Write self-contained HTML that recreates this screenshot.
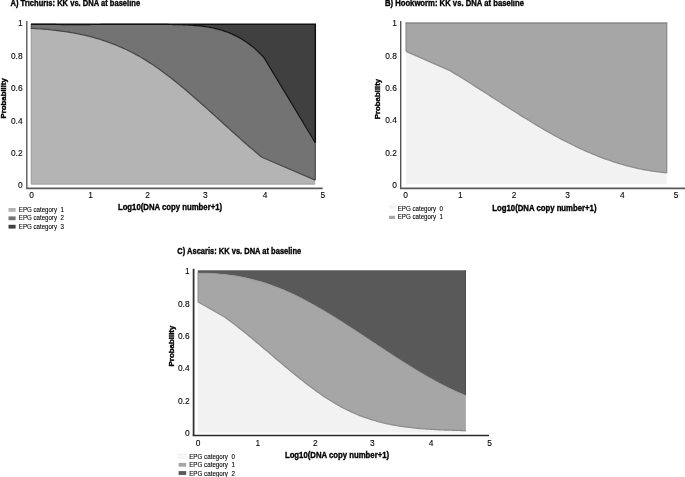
<!DOCTYPE html>
<html><head><meta charset="utf-8"><style>
html,body{margin:0;padding:0;background:#fff;}
body{width:685px;height:477px;overflow:hidden;}
svg{display:block;font-family:"Liberation Sans", sans-serif;filter:grayscale(1);}
</style></head><body>
<svg width="685" height="477" viewBox="0 0 685 477">
<rect width="685" height="477" fill="#fff"/>
<path d="M31.00,24.25 L33.01,24.25 L35.02,24.25 L37.03,24.25 L39.03,24.25 L41.04,24.25 L43.05,24.29 L45.06,24.33 L47.07,24.36 L49.08,24.40 L51.09,24.42 L53.09,24.45 L55.10,24.47 L57.11,24.49 L59.12,24.51 L61.13,24.53 L63.14,24.54 L65.15,24.55 L67.16,24.56 L69.16,24.56 L71.17,24.57 L73.18,24.57 L75.19,24.57 L77.20,24.57 L79.21,24.57 L81.22,24.56 L83.22,24.56 L85.23,24.55 L87.24,24.54 L89.25,24.53 L91.26,24.52 L93.27,24.51 L95.28,24.50 L97.28,24.49 L99.29,24.48 L101.30,24.46 L103.31,24.45 L105.32,24.44 L107.33,24.42 L109.34,24.41 L111.34,24.39 L113.35,24.38 L115.36,24.37 L117.37,24.35 L119.38,24.34 L121.39,24.33 L123.40,24.32 L125.41,24.31 L127.41,24.30 L129.42,24.29 L131.43,24.28 L133.44,24.28 L135.45,24.27 L137.46,24.27 L139.47,24.27 L141.47,24.27 L143.48,24.27 L145.49,24.27 L147.50,24.28 L149.51,24.28 L151.52,24.29 L153.53,24.30 L155.53,24.32 L157.54,24.33 L159.55,24.35 L161.56,24.37 L163.57,24.40 L165.58,24.42 L167.59,24.45 L169.59,24.49 L171.60,24.52 L173.61,24.56 L175.62,24.60 L177.63,24.65 L179.64,24.70 L181.65,24.76 L183.66,24.83 L185.66,24.91 L187.67,25.01 L189.68,25.11 L191.69,25.24 L193.70,25.38 L195.71,25.54 L197.72,25.72 L199.72,25.93 L201.73,26.16 L203.74,26.42 L205.75,26.71 L207.76,27.02 L209.77,27.37 L211.78,27.76 L213.78,28.18 L215.79,28.63 L217.80,29.13 L219.81,29.67 L221.82,30.25 L223.83,30.89 L225.84,31.57 L227.84,32.31 L229.85,33.10 L231.86,33.95 L233.87,34.86 L235.88,35.84 L237.89,36.88 L239.90,37.99 L241.91,39.17 L243.91,40.43 L245.92,41.76 L247.93,43.17 L249.94,44.67 L251.95,46.24 L253.96,47.91 L255.97,49.66 L257.97,51.51 L259.98,53.45 L261.99,55.49 L264.00,57.63 L315.30,142.70 L315.3,24.25 L31.0,24.25 Z" fill="#404040"/>
<path d="M31.00,24.25 L33.01,24.25 L35.02,24.25 L37.03,24.25 L39.03,24.25 L41.04,24.25 L43.05,24.29 L45.06,24.33 L47.07,24.36 L49.08,24.40 L51.09,24.42 L53.09,24.45 L55.10,24.47 L57.11,24.49 L59.12,24.51 L61.13,24.53 L63.14,24.54 L65.15,24.55 L67.16,24.56 L69.16,24.56 L71.17,24.57 L73.18,24.57 L75.19,24.57 L77.20,24.57 L79.21,24.57 L81.22,24.56 L83.22,24.56 L85.23,24.55 L87.24,24.54 L89.25,24.53 L91.26,24.52 L93.27,24.51 L95.28,24.50 L97.28,24.49 L99.29,24.48 L101.30,24.46 L103.31,24.45 L105.32,24.44 L107.33,24.42 L109.34,24.41 L111.34,24.39 L113.35,24.38 L115.36,24.37 L117.37,24.35 L119.38,24.34 L121.39,24.33 L123.40,24.32 L125.41,24.31 L127.41,24.30 L129.42,24.29 L131.43,24.28 L133.44,24.28 L135.45,24.27 L137.46,24.27 L139.47,24.27 L141.47,24.27 L143.48,24.27 L145.49,24.27 L147.50,24.28 L149.51,24.28 L151.52,24.29 L153.53,24.30 L155.53,24.32 L157.54,24.33 L159.55,24.35 L161.56,24.37 L163.57,24.40 L165.58,24.42 L167.59,24.45 L169.59,24.49 L171.60,24.52 L173.61,24.56 L175.62,24.60 L177.63,24.65 L179.64,24.70 L181.65,24.76 L183.66,24.83 L185.66,24.91 L187.67,25.01 L189.68,25.11 L191.69,25.24 L193.70,25.38 L195.71,25.54 L197.72,25.72 L199.72,25.93 L201.73,26.16 L203.74,26.42 L205.75,26.71 L207.76,27.02 L209.77,27.37 L211.78,27.76 L213.78,28.18 L215.79,28.63 L217.80,29.13 L219.81,29.67 L221.82,30.25 L223.83,30.89 L225.84,31.57 L227.84,32.31 L229.85,33.10 L231.86,33.95 L233.87,34.86 L235.88,35.84 L237.89,36.88 L239.90,37.99 L241.91,39.17 L243.91,40.43 L245.92,41.76 L247.93,43.17 L249.94,44.67 L251.95,46.24 L253.96,47.91 L255.97,49.66 L257.97,51.51 L259.98,53.45 L261.99,55.49 L264.00,57.63 L315.30,142.70 L315.30,180.10 L262.00,157.28 L259.99,155.63 L257.99,153.97 L255.98,152.28 L253.98,150.59 L251.97,148.88 L249.96,147.15 L247.96,145.41 L245.95,143.66 L243.95,141.91 L241.94,140.14 L239.93,138.36 L237.93,136.57 L235.92,134.78 L233.91,132.98 L231.91,131.17 L229.90,129.36 L227.90,127.54 L225.89,125.73 L223.88,123.91 L221.88,122.09 L219.87,120.26 L217.87,118.44 L215.86,116.62 L213.85,114.80 L211.85,112.98 L209.84,111.17 L207.84,109.36 L205.83,107.56 L203.82,105.76 L201.82,103.98 L199.81,102.19 L197.81,100.42 L195.80,98.66 L193.79,96.90 L191.79,95.16 L189.78,93.43 L187.77,91.71 L185.77,90.01 L183.76,88.32 L181.76,86.65 L179.75,84.99 L177.74,83.35 L175.74,81.73 L173.73,80.12 L171.73,78.54 L169.72,76.98 L167.71,75.44 L165.71,73.92 L163.70,72.42 L161.70,70.95 L159.69,69.50 L157.68,68.07 L155.68,66.68 L153.67,65.31 L151.67,63.97 L149.66,62.65 L147.65,61.37 L145.65,60.12 L143.64,58.90 L141.63,57.71 L139.63,56.55 L137.62,55.42 L135.62,54.33 L133.61,53.26 L131.60,52.22 L129.60,51.21 L127.59,50.23 L125.59,49.27 L123.58,48.35 L121.57,47.45 L119.57,46.58 L117.56,45.73 L115.56,44.91 L113.55,44.12 L111.54,43.35 L109.54,42.61 L107.53,41.89 L105.53,41.19 L103.52,40.52 L101.51,39.87 L99.51,39.24 L97.50,38.63 L95.49,38.05 L93.49,37.49 L91.48,36.95 L89.48,36.42 L87.47,35.92 L85.46,35.44 L83.46,34.98 L81.45,34.54 L79.45,34.11 L77.44,33.70 L75.43,33.31 L73.43,32.94 L71.42,32.59 L69.42,32.25 L67.41,31.92 L65.40,31.61 L63.40,31.32 L61.39,31.04 L59.39,30.77 L57.38,30.52 L55.37,30.29 L53.37,30.06 L51.36,29.85 L49.35,29.65 L47.35,29.46 L45.34,29.28 L43.34,29.11 L41.33,28.95 L39.32,28.81 L37.32,28.67 L35.31,28.54 L33.31,28.42 L31.30,28.31 L31.00,27.85 Z" fill="#737373"/>
<path d="M31.00,27.85 L31.30,28.31 L33.31,28.42 L35.31,28.54 L37.32,28.67 L39.32,28.81 L41.33,28.95 L43.34,29.11 L45.34,29.28 L47.35,29.46 L49.35,29.65 L51.36,29.85 L53.37,30.06 L55.37,30.29 L57.38,30.52 L59.39,30.77 L61.39,31.04 L63.40,31.32 L65.40,31.61 L67.41,31.92 L69.42,32.25 L71.42,32.59 L73.43,32.94 L75.43,33.31 L77.44,33.70 L79.45,34.11 L81.45,34.54 L83.46,34.98 L85.46,35.44 L87.47,35.92 L89.48,36.42 L91.48,36.95 L93.49,37.49 L95.49,38.05 L97.50,38.63 L99.51,39.24 L101.51,39.87 L103.52,40.52 L105.53,41.19 L107.53,41.89 L109.54,42.61 L111.54,43.35 L113.55,44.12 L115.56,44.91 L117.56,45.73 L119.57,46.58 L121.57,47.45 L123.58,48.35 L125.59,49.27 L127.59,50.23 L129.60,51.21 L131.60,52.22 L133.61,53.26 L135.62,54.33 L137.62,55.42 L139.63,56.55 L141.63,57.71 L143.64,58.90 L145.65,60.12 L147.65,61.37 L149.66,62.65 L151.67,63.97 L153.67,65.31 L155.68,66.68 L157.68,68.07 L159.69,69.50 L161.70,70.95 L163.70,72.42 L165.71,73.92 L167.71,75.44 L169.72,76.98 L171.73,78.54 L173.73,80.12 L175.74,81.73 L177.74,83.35 L179.75,84.99 L181.76,86.65 L183.76,88.32 L185.77,90.01 L187.77,91.71 L189.78,93.43 L191.79,95.16 L193.79,96.90 L195.80,98.66 L197.81,100.42 L199.81,102.19 L201.82,103.98 L203.82,105.76 L205.83,107.56 L207.84,109.36 L209.84,111.17 L211.85,112.98 L213.85,114.80 L215.86,116.62 L217.87,118.44 L219.87,120.26 L221.88,122.09 L223.88,123.91 L225.89,125.73 L227.90,127.54 L229.90,129.36 L231.91,131.17 L233.91,132.98 L235.92,134.78 L237.93,136.57 L239.93,138.36 L241.94,140.14 L243.95,141.91 L245.95,143.66 L247.96,145.41 L249.96,147.15 L251.97,148.88 L253.98,150.59 L255.98,152.28 L257.99,153.97 L259.99,155.63 L262.00,157.28 L315.30,180.10 L315.3,184.6 L31.0,184.6 Z" fill="#b4b4b4"/>
<path d="M31.3,184.0 L314.8,184.0" fill="none" stroke="#a2a2a2" stroke-width="1.2"/>
<path d="M31.3,27.85 L31.3,184.0" fill="none" stroke="#a2a2a2" stroke-width="1.2"/>
<path d="M31.3,24.25 L31.3,27.85" fill="none" stroke="#555" stroke-width="1.2"/>
<path d="M31.00,27.85 L31.30,28.31 L33.31,28.42 L35.31,28.54 L37.32,28.67 L39.32,28.81 L41.33,28.95 L43.34,29.11 L45.34,29.28 L47.35,29.46 L49.35,29.65 L51.36,29.85 L53.37,30.06 L55.37,30.29 L57.38,30.52 L59.39,30.77 L61.39,31.04 L63.40,31.32 L65.40,31.61 L67.41,31.92 L69.42,32.25 L71.42,32.59 L73.43,32.94 L75.43,33.31 L77.44,33.70 L79.45,34.11 L81.45,34.54 L83.46,34.98 L85.46,35.44 L87.47,35.92 L89.48,36.42 L91.48,36.95 L93.49,37.49 L95.49,38.05 L97.50,38.63 L99.51,39.24 L101.51,39.87 L103.52,40.52 L105.53,41.19 L107.53,41.89 L109.54,42.61 L111.54,43.35 L113.55,44.12 L115.56,44.91 L117.56,45.73 L119.57,46.58 L121.57,47.45 L123.58,48.35 L125.59,49.27 L127.59,50.23 L129.60,51.21 L131.60,52.22 L133.61,53.26 L135.62,54.33 L137.62,55.42 L139.63,56.55 L141.63,57.71 L143.64,58.90 L145.65,60.12 L147.65,61.37 L149.66,62.65 L151.67,63.97 L153.67,65.31 L155.68,66.68 L157.68,68.07 L159.69,69.50 L161.70,70.95 L163.70,72.42 L165.71,73.92 L167.71,75.44 L169.72,76.98 L171.73,78.54 L173.73,80.12 L175.74,81.73 L177.74,83.35 L179.75,84.99 L181.76,86.65 L183.76,88.32 L185.77,90.01 L187.77,91.71 L189.78,93.43 L191.79,95.16 L193.79,96.90 L195.80,98.66 L197.81,100.42 L199.81,102.19 L201.82,103.98 L203.82,105.76 L205.83,107.56 L207.84,109.36 L209.84,111.17 L211.85,112.98 L213.85,114.80 L215.86,116.62 L217.87,118.44 L219.87,120.26 L221.88,122.09 L223.88,123.91 L225.89,125.73 L227.90,127.54 L229.90,129.36 L231.91,131.17 L233.91,132.98 L235.92,134.78 L237.93,136.57 L239.93,138.36 L241.94,140.14 L243.95,141.91 L245.95,143.66 L247.96,145.41 L249.96,147.15 L251.97,148.88 L253.98,150.59 L255.98,152.28 L257.99,153.97 L259.99,155.63 L262.00,157.28 L315.30,180.10" fill="none" stroke="#484848" stroke-width="1.3"/>
<path d="M315.3,180.1 L315.3,142.7" fill="none" stroke="#4a4a4a" stroke-width="1.2"/>
<path d="M31.00,24.25 L33.01,24.25 L35.02,24.25 L37.03,24.25 L39.03,24.25 L41.04,24.25 L43.05,24.29 L45.06,24.33 L47.07,24.36 L49.08,24.40 L51.09,24.42 L53.09,24.45 L55.10,24.47 L57.11,24.49 L59.12,24.51 L61.13,24.53 L63.14,24.54 L65.15,24.55 L67.16,24.56 L69.16,24.56 L71.17,24.57 L73.18,24.57 L75.19,24.57 L77.20,24.57 L79.21,24.57 L81.22,24.56 L83.22,24.56 L85.23,24.55 L87.24,24.54 L89.25,24.53 L91.26,24.52 L93.27,24.51 L95.28,24.50 L97.28,24.49 L99.29,24.48 L101.30,24.46 L103.31,24.45 L105.32,24.44 L107.33,24.42 L109.34,24.41 L111.34,24.39 L113.35,24.38 L115.36,24.37 L117.37,24.35 L119.38,24.34 L121.39,24.33 L123.40,24.32 L125.41,24.31 L127.41,24.30 L129.42,24.29 L131.43,24.28 L133.44,24.28 L135.45,24.27 L137.46,24.27 L139.47,24.27 L141.47,24.27 L143.48,24.27 L145.49,24.27 L147.50,24.28 L149.51,24.28 L151.52,24.29 L153.53,24.30 L155.53,24.32 L157.54,24.33 L159.55,24.35 L161.56,24.37 L163.57,24.40 L165.58,24.42 L167.59,24.45 L169.59,24.49 L171.60,24.52 L173.61,24.56 L175.62,24.60 L177.63,24.65 L179.64,24.70 L181.65,24.76 L183.66,24.83 L185.66,24.91 L187.67,25.01 L189.68,25.11 L191.69,25.24 L193.70,25.38 L195.71,25.54 L197.72,25.72 L199.72,25.93 L201.73,26.16 L203.74,26.42 L205.75,26.71 L207.76,27.02 L209.77,27.37 L211.78,27.76 L213.78,28.18 L215.79,28.63 L217.80,29.13 L219.81,29.67 L221.82,30.25 L223.83,30.89 L225.84,31.57 L227.84,32.31 L229.85,33.10 L231.86,33.95 L233.87,34.86 L235.88,35.84 L237.89,36.88 L239.90,37.99 L241.91,39.17 L243.91,40.43 L245.92,41.76 L247.93,43.17 L249.94,44.67 L251.95,46.24 L253.96,47.91 L255.97,49.66 L257.97,51.51 L259.98,53.45 L261.99,55.49 L264.00,57.63 L315.30,142.70" fill="none" stroke="#111" stroke-width="1.2"/>
<path d="M31.0,24.25 L315.3,24.25 L315.3,142.7" fill="none" stroke="#111" stroke-width="1.5"/>
<path d="M26.8,21 L26.8,188.2" fill="none" stroke="#5a5a5a" stroke-width="1.4"/>
<path d="M26.1,188.3 L322.7,188.3" fill="none" stroke="#5c5c5c" stroke-width="1.8"/>
<text x="10.5" y="6.3" font-size="8.6" font-weight="bold" stroke="#000" stroke-width="0.35" textLength="129.6" lengthAdjust="spacingAndGlyphs" fill="#000">A) Trichuris: KK vs. DNA at baseline</text>
<text x="22.6" y="25.85" font-size="8.4" stroke="#000" stroke-width="0.1" text-anchor="end" fill="#000">1</text>
<text x="22.6" y="58.7" font-size="8.4" stroke="#000" stroke-width="0.1" text-anchor="end" fill="#000">0.8</text>
<text x="22.6" y="91.2" font-size="8.4" stroke="#000" stroke-width="0.1" text-anchor="end" fill="#000">0.6</text>
<text x="22.6" y="123.7" font-size="8.4" stroke="#000" stroke-width="0.1" text-anchor="end" fill="#000">0.4</text>
<text x="22.6" y="156.4" font-size="8.4" stroke="#000" stroke-width="0.1" text-anchor="end" fill="#000">0.2</text>
<text x="22.6" y="188.45" font-size="8.4" stroke="#000" stroke-width="0.1" text-anchor="end" fill="#000">0</text>
<text x="31.5" y="198" font-size="8.4" stroke="#000" stroke-width="0.1" text-anchor="middle" fill="#000">0</text>
<text x="90.5" y="198" font-size="8.4" stroke="#000" stroke-width="0.1" text-anchor="middle" fill="#000">1</text>
<text x="147.7" y="198" font-size="8.4" stroke="#000" stroke-width="0.1" text-anchor="middle" fill="#000">2</text>
<text x="205.4" y="198" font-size="8.4" stroke="#000" stroke-width="0.1" text-anchor="middle" fill="#000">3</text>
<text x="265" y="198" font-size="8.4" stroke="#000" stroke-width="0.1" text-anchor="middle" fill="#000">4</text>
<text x="322.8" y="198" font-size="8.4" stroke="#000" stroke-width="0.1" text-anchor="middle" fill="#000">5</text>
<text x="117.9" y="210.3" font-size="8.6" font-weight="bold" stroke="#000" stroke-width="0.35" textLength="104.2" lengthAdjust="spacingAndGlyphs" fill="#000">Log10(DNA copy number+1)</text>
<text x="6.3" y="118.4" font-size="7.4" font-weight="bold" stroke="#000" stroke-width="0.35" textLength="40.2" lengthAdjust="spacingAndGlyphs" transform="rotate(-90 6.3 118.4)" fill="#000">Probability</text>
<rect x="8.5" y="208.0" width="7.1" height="3.8" fill="#b4b4b4"/>
<text x="18.8" y="212.0" font-size="6.8" stroke="#000" stroke-width="0.1" textLength="45" lengthAdjust="spacingAndGlyphs" fill="#000" xml:space="preserve">EPG category  1</text>
<rect x="8.5" y="216.4" width="7.1" height="3.8" fill="#737373"/>
<text x="18.8" y="220.4" font-size="6.8" stroke="#000" stroke-width="0.1" textLength="45" lengthAdjust="spacingAndGlyphs" fill="#000" xml:space="preserve">EPG category  2</text>
<rect x="8.5" y="224.8" width="7.1" height="3.8" fill="#404040"/>
<text x="18.8" y="228.8" font-size="6.8" stroke="#000" stroke-width="0.1" textLength="45" lengthAdjust="spacingAndGlyphs" fill="#000" xml:space="preserve">EPG category  3</text>
<path d="M406.10,51.30 L450.00,70.70 L452.00,71.90 L454.01,73.11 L456.01,74.33 L458.02,75.56 L460.02,76.79 L462.03,78.03 L464.03,79.27 L466.04,80.53 L468.04,81.78 L470.05,83.05 L472.05,84.31 L474.06,85.58 L476.06,86.86 L478.06,88.14 L480.07,89.42 L482.07,90.70 L484.08,91.99 L486.08,93.28 L488.09,94.57 L490.09,95.86 L492.10,97.15 L494.10,98.44 L496.11,99.73 L498.11,101.02 L500.12,102.32 L502.12,103.60 L504.12,104.89 L506.13,106.18 L508.13,107.46 L510.14,108.74 L512.14,110.02 L514.15,111.29 L516.15,112.56 L518.16,113.82 L520.16,115.08 L522.17,116.33 L524.17,117.58 L526.18,118.82 L528.18,120.06 L530.19,121.29 L532.19,122.51 L534.19,123.72 L536.20,124.93 L538.20,126.12 L540.21,127.31 L542.21,128.49 L544.22,129.66 L546.22,130.82 L548.23,131.96 L550.23,133.10 L552.24,134.23 L554.24,135.34 L556.25,136.44 L558.25,137.53 L560.25,138.61 L562.26,139.67 L564.26,140.72 L566.27,141.75 L568.27,142.77 L570.28,143.78 L572.28,144.77 L574.29,145.75 L576.29,146.71 L578.30,147.66 L580.30,148.59 L582.31,149.51 L584.31,150.41 L586.31,151.29 L588.32,152.16 L590.32,153.02 L592.33,153.86 L594.33,154.68 L596.34,155.49 L598.34,156.28 L600.35,157.05 L602.35,157.81 L604.36,158.55 L606.36,159.28 L608.37,159.99 L610.37,160.68 L612.38,161.36 L614.38,162.01 L616.38,162.65 L618.39,163.28 L620.39,163.88 L622.40,164.47 L624.40,165.04 L626.41,165.60 L628.41,166.13 L630.42,166.65 L632.42,167.15 L634.43,167.63 L636.43,168.10 L638.44,168.54 L640.44,168.97 L642.44,169.37 L644.45,169.76 L646.45,170.13 L648.46,170.48 L650.46,170.82 L652.47,171.13 L654.47,171.42 L656.48,171.70 L658.48,171.95 L660.49,172.19 L662.49,172.40 L664.50,172.60 L666.50,172.77 L666.70,173.00 L666.7,23.125 L406.1,23.125 Z" fill="#a6a6a6"/>
<path d="M406.10,51.30 L450.00,70.70 L452.00,71.90 L454.01,73.11 L456.01,74.33 L458.02,75.56 L460.02,76.79 L462.03,78.03 L464.03,79.27 L466.04,80.53 L468.04,81.78 L470.05,83.05 L472.05,84.31 L474.06,85.58 L476.06,86.86 L478.06,88.14 L480.07,89.42 L482.07,90.70 L484.08,91.99 L486.08,93.28 L488.09,94.57 L490.09,95.86 L492.10,97.15 L494.10,98.44 L496.11,99.73 L498.11,101.02 L500.12,102.32 L502.12,103.60 L504.12,104.89 L506.13,106.18 L508.13,107.46 L510.14,108.74 L512.14,110.02 L514.15,111.29 L516.15,112.56 L518.16,113.82 L520.16,115.08 L522.17,116.33 L524.17,117.58 L526.18,118.82 L528.18,120.06 L530.19,121.29 L532.19,122.51 L534.19,123.72 L536.20,124.93 L538.20,126.12 L540.21,127.31 L542.21,128.49 L544.22,129.66 L546.22,130.82 L548.23,131.96 L550.23,133.10 L552.24,134.23 L554.24,135.34 L556.25,136.44 L558.25,137.53 L560.25,138.61 L562.26,139.67 L564.26,140.72 L566.27,141.75 L568.27,142.77 L570.28,143.78 L572.28,144.77 L574.29,145.75 L576.29,146.71 L578.30,147.66 L580.30,148.59 L582.31,149.51 L584.31,150.41 L586.31,151.29 L588.32,152.16 L590.32,153.02 L592.33,153.86 L594.33,154.68 L596.34,155.49 L598.34,156.28 L600.35,157.05 L602.35,157.81 L604.36,158.55 L606.36,159.28 L608.37,159.99 L610.37,160.68 L612.38,161.36 L614.38,162.01 L616.38,162.65 L618.39,163.28 L620.39,163.88 L622.40,164.47 L624.40,165.04 L626.41,165.60 L628.41,166.13 L630.42,166.65 L632.42,167.15 L634.43,167.63 L636.43,168.10 L638.44,168.54 L640.44,168.97 L642.44,169.37 L644.45,169.76 L646.45,170.13 L648.46,170.48 L650.46,170.82 L652.47,171.13 L654.47,171.42 L656.48,171.70 L658.48,171.95 L660.49,172.19 L662.49,172.40 L664.50,172.60 L666.50,172.77 L666.70,173.00 L666.7,184.2 L406.1,184.2 Z" fill="#f2f2f2"/>
<path d="M406.10,51.30 L450.00,70.70 L452.00,71.90 L454.01,73.11 L456.01,74.33 L458.02,75.56 L460.02,76.79 L462.03,78.03 L464.03,79.27 L466.04,80.53 L468.04,81.78 L470.05,83.05 L472.05,84.31 L474.06,85.58 L476.06,86.86 L478.06,88.14 L480.07,89.42 L482.07,90.70 L484.08,91.99 L486.08,93.28 L488.09,94.57 L490.09,95.86 L492.10,97.15 L494.10,98.44 L496.11,99.73 L498.11,101.02 L500.12,102.32 L502.12,103.60 L504.12,104.89 L506.13,106.18 L508.13,107.46 L510.14,108.74 L512.14,110.02 L514.15,111.29 L516.15,112.56 L518.16,113.82 L520.16,115.08 L522.17,116.33 L524.17,117.58 L526.18,118.82 L528.18,120.06 L530.19,121.29 L532.19,122.51 L534.19,123.72 L536.20,124.93 L538.20,126.12 L540.21,127.31 L542.21,128.49 L544.22,129.66 L546.22,130.82 L548.23,131.96 L550.23,133.10 L552.24,134.23 L554.24,135.34 L556.25,136.44 L558.25,137.53 L560.25,138.61 L562.26,139.67 L564.26,140.72 L566.27,141.75 L568.27,142.77 L570.28,143.78 L572.28,144.77 L574.29,145.75 L576.29,146.71 L578.30,147.66 L580.30,148.59 L582.31,149.51 L584.31,150.41 L586.31,151.29 L588.32,152.16 L590.32,153.02 L592.33,153.86 L594.33,154.68 L596.34,155.49 L598.34,156.28 L600.35,157.05 L602.35,157.81 L604.36,158.55 L606.36,159.28 L608.37,159.99 L610.37,160.68 L612.38,161.36 L614.38,162.01 L616.38,162.65 L618.39,163.28 L620.39,163.88 L622.40,164.47 L624.40,165.04 L626.41,165.60 L628.41,166.13 L630.42,166.65 L632.42,167.15 L634.43,167.63 L636.43,168.10 L638.44,168.54 L640.44,168.97 L642.44,169.37 L644.45,169.76 L646.45,170.13 L648.46,170.48 L650.46,170.82 L652.47,171.13 L654.47,171.42 L656.48,171.70 L658.48,171.95 L660.49,172.19 L662.49,172.40 L664.50,172.60 L666.50,172.77 L666.70,173.00" fill="none" stroke="#8c8c8c" stroke-width="1.3"/>
<path d="M406.1,51.3 L406.1,23.125 M666.7,23.125 L666.7,173.0" fill="none" stroke="#8c8c8c" stroke-width="1.3"/>
<path d="M405.45000000000005,23.125 L667.35,23.125" fill="none" stroke="#8c8c8c" stroke-width="1.75"/>
<path d="M400.7,21 L400.7,188.2" fill="none" stroke="#555" stroke-width="1.4"/>
<path d="M400,188.3 L685,188.3" fill="none" stroke="#5a5a5a" stroke-width="1.8"/>
<text x="384.9" y="6.2" font-size="8.6" font-weight="bold" stroke="#000" stroke-width="0.35" textLength="139.1" lengthAdjust="spacingAndGlyphs" fill="#000">B) Hookworm: KK vs. DNA at baseline</text>
<text x="396.8" y="26.0" font-size="8.4" stroke="#000" stroke-width="0.1" text-anchor="end" fill="#000">1</text>
<text x="396.8" y="58.7" font-size="8.4" stroke="#000" stroke-width="0.1" text-anchor="end" fill="#000">0.8</text>
<text x="396.8" y="91.2" font-size="8.4" stroke="#000" stroke-width="0.1" text-anchor="end" fill="#000">0.6</text>
<text x="396.8" y="123.3" font-size="8.4" stroke="#000" stroke-width="0.1" text-anchor="end" fill="#000">0.4</text>
<text x="396.8" y="156.1" font-size="8.4" stroke="#000" stroke-width="0.1" text-anchor="end" fill="#000">0.2</text>
<text x="396.8" y="188.4" font-size="8.4" stroke="#000" stroke-width="0.1" text-anchor="end" fill="#000">0</text>
<text x="405.7" y="198" font-size="8.4" stroke="#000" stroke-width="0.1" text-anchor="middle" fill="#000">0</text>
<text x="460.4" y="198" font-size="8.4" stroke="#000" stroke-width="0.1" text-anchor="middle" fill="#000">1</text>
<text x="514" y="198" font-size="8.4" stroke="#000" stroke-width="0.1" text-anchor="middle" fill="#000">2</text>
<text x="567.7" y="198" font-size="8.4" stroke="#000" stroke-width="0.1" text-anchor="middle" fill="#000">3</text>
<text x="622.4" y="198" font-size="8.4" stroke="#000" stroke-width="0.1" text-anchor="middle" fill="#000">4</text>
<text x="676" y="198" font-size="8.4" stroke="#000" stroke-width="0.1" text-anchor="middle" fill="#000">5</text>
<text x="492.3" y="210.6" font-size="8.6" font-weight="bold" stroke="#000" stroke-width="0.35" textLength="104.2" lengthAdjust="spacingAndGlyphs" fill="#000">Log10(DNA copy number+1)</text>
<text x="380.4" y="119.2" font-size="7.4" font-weight="bold" stroke="#000" stroke-width="0.35" textLength="40.4" lengthAdjust="spacingAndGlyphs" transform="rotate(-90 380.4 119.2)" fill="#000">Probability</text>
<rect x="389.2" y="205.3" width="6.5" height="3.3" fill="#f2f2f2"/>
<text x="397.7" y="210.7" font-size="6.8" stroke="#000" stroke-width="0.1" textLength="45.3" lengthAdjust="spacingAndGlyphs" fill="#000" xml:space="preserve">EPG category  0</text>
<rect x="389.0" y="215.8" width="6.0" height="3.2" fill="#a6a6a6"/>
<text x="397.7" y="218.8" font-size="6.8" stroke="#000" stroke-width="0.1" textLength="45.3" lengthAdjust="spacingAndGlyphs" fill="#000" xml:space="preserve">EPG category  1</text>
<path d="M197.80,273.05 L199.80,273.04 L201.80,273.04 L203.79,273.07 L205.79,273.11 L207.79,273.16 L209.79,273.24 L211.78,273.33 L213.78,273.44 L215.78,273.57 L217.78,273.71 L219.78,273.88 L221.77,274.06 L223.77,274.26 L225.77,274.48 L227.77,274.72 L229.76,274.98 L231.76,275.26 L233.76,275.55 L235.76,275.87 L237.76,276.21 L239.75,276.56 L241.75,276.94 L243.75,277.34 L245.75,277.76 L247.74,278.20 L249.74,278.66 L251.74,279.14 L253.74,279.64 L255.74,280.16 L257.73,280.71 L259.73,281.28 L261.73,281.87 L263.73,282.48 L265.72,283.11 L267.72,283.77 L269.72,284.45 L271.72,285.15 L273.71,285.88 L275.71,286.63 L277.71,287.40 L279.71,288.20 L281.71,289.02 L283.70,289.86 L285.70,290.72 L287.70,291.60 L289.70,292.51 L291.69,293.43 L293.69,294.37 L295.69,295.33 L297.69,296.31 L299.69,297.31 L301.68,298.33 L303.68,299.36 L305.68,300.41 L307.68,301.47 L309.67,302.55 L311.67,303.65 L313.67,304.76 L315.67,305.88 L317.67,307.02 L319.66,308.17 L321.66,309.34 L323.66,310.52 L325.66,311.70 L327.65,312.90 L329.65,314.11 L331.65,315.33 L333.65,316.57 L335.65,317.80 L337.64,319.05 L339.64,320.31 L341.64,321.58 L343.64,322.85 L345.63,324.13 L347.63,325.41 L349.63,326.70 L351.63,328.00 L353.63,329.30 L355.62,330.61 L357.62,331.92 L359.62,333.23 L361.62,334.55 L363.61,335.87 L365.61,337.19 L367.61,338.52 L369.61,339.84 L371.61,341.17 L373.60,342.49 L375.60,343.82 L377.60,345.14 L379.60,346.46 L381.59,347.79 L383.59,349.10 L385.59,350.42 L387.59,351.73 L389.59,353.04 L391.58,354.35 L393.58,355.65 L395.58,356.94 L397.58,358.23 L399.57,359.52 L401.57,360.79 L403.57,362.06 L405.57,363.32 L407.56,364.58 L409.56,365.82 L411.56,367.06 L413.56,368.29 L415.56,369.50 L417.55,370.71 L419.55,371.91 L421.55,373.09 L423.55,374.26 L425.54,375.42 L427.54,376.57 L429.54,377.70 L431.54,378.82 L433.54,379.93 L435.53,381.02 L437.53,382.09 L439.53,383.15 L441.53,384.20 L443.52,385.22 L445.52,386.23 L447.52,387.22 L449.52,388.20 L451.52,389.15 L453.51,390.09 L455.51,391.00 L457.51,391.90 L459.51,392.77 L461.50,393.62 L463.50,394.46 L465.50,395.27 L465.90,395.00 L465.9,270.25 L197.8,270.25 Z" fill="#595959"/>
<path d="M197.80,273.05 L199.80,273.04 L201.80,273.04 L203.79,273.07 L205.79,273.11 L207.79,273.16 L209.79,273.24 L211.78,273.33 L213.78,273.44 L215.78,273.57 L217.78,273.71 L219.78,273.88 L221.77,274.06 L223.77,274.26 L225.77,274.48 L227.77,274.72 L229.76,274.98 L231.76,275.26 L233.76,275.55 L235.76,275.87 L237.76,276.21 L239.75,276.56 L241.75,276.94 L243.75,277.34 L245.75,277.76 L247.74,278.20 L249.74,278.66 L251.74,279.14 L253.74,279.64 L255.74,280.16 L257.73,280.71 L259.73,281.28 L261.73,281.87 L263.73,282.48 L265.72,283.11 L267.72,283.77 L269.72,284.45 L271.72,285.15 L273.71,285.88 L275.71,286.63 L277.71,287.40 L279.71,288.20 L281.71,289.02 L283.70,289.86 L285.70,290.72 L287.70,291.60 L289.70,292.51 L291.69,293.43 L293.69,294.37 L295.69,295.33 L297.69,296.31 L299.69,297.31 L301.68,298.33 L303.68,299.36 L305.68,300.41 L307.68,301.47 L309.67,302.55 L311.67,303.65 L313.67,304.76 L315.67,305.88 L317.67,307.02 L319.66,308.17 L321.66,309.34 L323.66,310.52 L325.66,311.70 L327.65,312.90 L329.65,314.11 L331.65,315.33 L333.65,316.57 L335.65,317.80 L337.64,319.05 L339.64,320.31 L341.64,321.58 L343.64,322.85 L345.63,324.13 L347.63,325.41 L349.63,326.70 L351.63,328.00 L353.63,329.30 L355.62,330.61 L357.62,331.92 L359.62,333.23 L361.62,334.55 L363.61,335.87 L365.61,337.19 L367.61,338.52 L369.61,339.84 L371.61,341.17 L373.60,342.49 L375.60,343.82 L377.60,345.14 L379.60,346.46 L381.59,347.79 L383.59,349.10 L385.59,350.42 L387.59,351.73 L389.59,353.04 L391.58,354.35 L393.58,355.65 L395.58,356.94 L397.58,358.23 L399.57,359.52 L401.57,360.79 L403.57,362.06 L405.57,363.32 L407.56,364.58 L409.56,365.82 L411.56,367.06 L413.56,368.29 L415.56,369.50 L417.55,370.71 L419.55,371.91 L421.55,373.09 L423.55,374.26 L425.54,375.42 L427.54,376.57 L429.54,377.70 L431.54,378.82 L433.54,379.93 L435.53,381.02 L437.53,382.09 L439.53,383.15 L441.53,384.20 L443.52,385.22 L445.52,386.23 L447.52,387.22 L449.52,388.20 L451.52,389.15 L453.51,390.09 L455.51,391.00 L457.51,391.90 L459.51,392.77 L461.50,393.62 L463.50,394.46 L465.50,395.27 L465.90,395.00 L465.90,430.90 L465.40,430.60 L463.40,430.54 L461.39,430.48 L459.39,430.42 L457.39,430.36 L455.38,430.30 L453.38,430.24 L451.38,430.18 L449.37,430.12 L447.37,430.05 L445.37,429.98 L443.36,429.90 L441.36,429.83 L439.36,429.74 L437.35,429.65 L435.35,429.55 L433.35,429.45 L431.34,429.34 L429.34,429.22 L427.34,429.09 L425.33,428.95 L423.33,428.81 L421.33,428.65 L419.32,428.48 L417.32,428.30 L415.32,428.10 L413.31,427.90 L411.31,427.68 L409.31,427.44 L407.30,427.19 L405.30,426.93 L403.30,426.65 L401.29,426.35 L399.29,426.04 L397.29,425.71 L395.28,425.36 L393.28,424.99 L391.28,424.60 L389.27,424.20 L387.27,423.77 L385.27,423.32 L383.26,422.85 L381.26,422.35 L379.26,421.84 L377.25,421.30 L375.25,420.74 L373.25,420.15 L371.24,419.53 L369.24,418.89 L367.24,418.23 L365.23,417.53 L363.23,416.81 L361.23,416.07 L359.22,415.29 L357.22,414.48 L355.22,413.64 L353.21,412.78 L351.21,411.88 L349.21,410.95 L347.20,409.98 L345.20,408.99 L343.20,407.96 L341.19,406.90 L339.19,405.80 L337.19,404.67 L335.18,403.50 L333.18,402.30 L331.18,401.07 L329.17,399.81 L327.17,398.52 L325.17,397.20 L323.16,395.86 L321.16,394.48 L319.16,393.08 L317.15,391.66 L315.15,390.22 L313.15,388.75 L311.14,387.26 L309.14,385.75 L307.14,384.22 L305.13,382.67 L303.13,381.10 L301.13,379.52 L299.12,377.92 L297.12,376.31 L295.12,374.69 L293.11,373.05 L291.11,371.40 L289.11,369.74 L287.10,368.07 L285.10,366.40 L283.10,364.71 L281.09,363.02 L279.09,361.33 L277.09,359.63 L275.08,357.93 L273.08,356.22 L271.08,354.52 L269.07,352.81 L267.07,351.11 L265.07,349.40 L263.06,347.70 L261.06,346.01 L259.06,344.32 L257.05,342.63 L255.05,340.95 L253.05,339.28 L251.04,337.62 L249.04,335.97 L247.04,334.33 L245.03,332.70 L243.03,331.08 L241.03,329.48 L239.02,327.90 L237.02,326.33 L235.02,324.77 L233.01,323.24 L231.01,321.72 L229.01,320.23 L227.00,318.75 L225.00,317.30 L197.80,301.70 Z" fill="#a6a6a6"/>
<path d="M197.80,301.70 L225.00,317.30 L227.00,318.75 L229.01,320.23 L231.01,321.72 L233.01,323.24 L235.02,324.77 L237.02,326.33 L239.02,327.90 L241.03,329.48 L243.03,331.08 L245.03,332.70 L247.04,334.33 L249.04,335.97 L251.04,337.62 L253.05,339.28 L255.05,340.95 L257.05,342.63 L259.06,344.32 L261.06,346.01 L263.06,347.70 L265.07,349.40 L267.07,351.11 L269.07,352.81 L271.08,354.52 L273.08,356.22 L275.08,357.93 L277.09,359.63 L279.09,361.33 L281.09,363.02 L283.10,364.71 L285.10,366.40 L287.10,368.07 L289.11,369.74 L291.11,371.40 L293.11,373.05 L295.12,374.69 L297.12,376.31 L299.12,377.92 L301.13,379.52 L303.13,381.10 L305.13,382.67 L307.14,384.22 L309.14,385.75 L311.14,387.26 L313.15,388.75 L315.15,390.22 L317.15,391.66 L319.16,393.08 L321.16,394.48 L323.16,395.86 L325.17,397.20 L327.17,398.52 L329.17,399.81 L331.18,401.07 L333.18,402.30 L335.18,403.50 L337.19,404.67 L339.19,405.80 L341.19,406.90 L343.20,407.96 L345.20,408.99 L347.20,409.98 L349.21,410.95 L351.21,411.88 L353.21,412.78 L355.22,413.64 L357.22,414.48 L359.22,415.29 L361.23,416.07 L363.23,416.81 L365.23,417.53 L367.24,418.23 L369.24,418.89 L371.24,419.53 L373.25,420.15 L375.25,420.74 L377.25,421.30 L379.26,421.84 L381.26,422.35 L383.26,422.85 L385.27,423.32 L387.27,423.77 L389.27,424.20 L391.28,424.60 L393.28,424.99 L395.28,425.36 L397.29,425.71 L399.29,426.04 L401.29,426.35 L403.30,426.65 L405.30,426.93 L407.30,427.19 L409.31,427.44 L411.31,427.68 L413.31,427.90 L415.32,428.10 L417.32,428.30 L419.32,428.48 L421.33,428.65 L423.33,428.81 L425.33,428.95 L427.34,429.09 L429.34,429.22 L431.34,429.34 L433.35,429.45 L435.35,429.55 L437.35,429.65 L439.36,429.74 L441.36,429.83 L443.36,429.90 L445.37,429.98 L447.37,430.05 L449.37,430.12 L451.38,430.18 L453.38,430.24 L455.38,430.30 L457.39,430.36 L459.39,430.42 L461.39,430.48 L463.40,430.54 L465.40,430.60 L465.90,430.90 L465.9,432.4 L197.8,432.4 Z" fill="#f2f2f2"/>
<path d="M197.80,301.70 L225.00,317.30 L227.00,318.75 L229.01,320.23 L231.01,321.72 L233.01,323.24 L235.02,324.77 L237.02,326.33 L239.02,327.90 L241.03,329.48 L243.03,331.08 L245.03,332.70 L247.04,334.33 L249.04,335.97 L251.04,337.62 L253.05,339.28 L255.05,340.95 L257.05,342.63 L259.06,344.32 L261.06,346.01 L263.06,347.70 L265.07,349.40 L267.07,351.11 L269.07,352.81 L271.08,354.52 L273.08,356.22 L275.08,357.93 L277.09,359.63 L279.09,361.33 L281.09,363.02 L283.10,364.71 L285.10,366.40 L287.10,368.07 L289.11,369.74 L291.11,371.40 L293.11,373.05 L295.12,374.69 L297.12,376.31 L299.12,377.92 L301.13,379.52 L303.13,381.10 L305.13,382.67 L307.14,384.22 L309.14,385.75 L311.14,387.26 L313.15,388.75 L315.15,390.22 L317.15,391.66 L319.16,393.08 L321.16,394.48 L323.16,395.86 L325.17,397.20 L327.17,398.52 L329.17,399.81 L331.18,401.07 L333.18,402.30 L335.18,403.50 L337.19,404.67 L339.19,405.80 L341.19,406.90 L343.20,407.96 L345.20,408.99 L347.20,409.98 L349.21,410.95 L351.21,411.88 L353.21,412.78 L355.22,413.64 L357.22,414.48 L359.22,415.29 L361.23,416.07 L363.23,416.81 L365.23,417.53 L367.24,418.23 L369.24,418.89 L371.24,419.53 L373.25,420.15 L375.25,420.74 L377.25,421.30 L379.26,421.84 L381.26,422.35 L383.26,422.85 L385.27,423.32 L387.27,423.77 L389.27,424.20 L391.28,424.60 L393.28,424.99 L395.28,425.36 L397.29,425.71 L399.29,426.04 L401.29,426.35 L403.30,426.65 L405.30,426.93 L407.30,427.19 L409.31,427.44 L411.31,427.68 L413.31,427.90 L415.32,428.10 L417.32,428.30 L419.32,428.48 L421.33,428.65 L423.33,428.81 L425.33,428.95 L427.34,429.09 L429.34,429.22 L431.34,429.34 L433.35,429.45 L435.35,429.55 L437.35,429.65 L439.36,429.74 L441.36,429.83 L443.36,429.90 L445.37,429.98 L447.37,430.05 L449.37,430.12 L451.38,430.18 L453.38,430.24 L455.38,430.30 L457.39,430.36 L459.39,430.42 L461.39,430.48 L463.40,430.54 L465.40,430.60 L465.90,430.90" fill="none" stroke="#8c8c8c" stroke-width="1.3"/>
<path d="M197.80,273.05 L199.80,273.04 L201.80,273.04 L203.79,273.07 L205.79,273.11 L207.79,273.16 L209.79,273.24 L211.78,273.33 L213.78,273.44 L215.78,273.57 L217.78,273.71 L219.78,273.88 L221.77,274.06 L223.77,274.26 L225.77,274.48 L227.77,274.72 L229.76,274.98 L231.76,275.26 L233.76,275.55 L235.76,275.87 L237.76,276.21 L239.75,276.56 L241.75,276.94 L243.75,277.34 L245.75,277.76 L247.74,278.20 L249.74,278.66 L251.74,279.14 L253.74,279.64 L255.74,280.16 L257.73,280.71 L259.73,281.28 L261.73,281.87 L263.73,282.48 L265.72,283.11 L267.72,283.77 L269.72,284.45 L271.72,285.15 L273.71,285.88 L275.71,286.63 L277.71,287.40 L279.71,288.20 L281.71,289.02 L283.70,289.86 L285.70,290.72 L287.70,291.60 L289.70,292.51 L291.69,293.43 L293.69,294.37 L295.69,295.33 L297.69,296.31 L299.69,297.31 L301.68,298.33 L303.68,299.36 L305.68,300.41 L307.68,301.47 L309.67,302.55 L311.67,303.65 L313.67,304.76 L315.67,305.88 L317.67,307.02 L319.66,308.17 L321.66,309.34 L323.66,310.52 L325.66,311.70 L327.65,312.90 L329.65,314.11 L331.65,315.33 L333.65,316.57 L335.65,317.80 L337.64,319.05 L339.64,320.31 L341.64,321.58 L343.64,322.85 L345.63,324.13 L347.63,325.41 L349.63,326.70 L351.63,328.00 L353.63,329.30 L355.62,330.61 L357.62,331.92 L359.62,333.23 L361.62,334.55 L363.61,335.87 L365.61,337.19 L367.61,338.52 L369.61,339.84 L371.61,341.17 L373.60,342.49 L375.60,343.82 L377.60,345.14 L379.60,346.46 L381.59,347.79 L383.59,349.10 L385.59,350.42 L387.59,351.73 L389.59,353.04 L391.58,354.35 L393.58,355.65 L395.58,356.94 L397.58,358.23 L399.57,359.52 L401.57,360.79 L403.57,362.06 L405.57,363.32 L407.56,364.58 L409.56,365.82 L411.56,367.06 L413.56,368.29 L415.56,369.50 L417.55,370.71 L419.55,371.91 L421.55,373.09 L423.55,374.26 L425.54,375.42 L427.54,376.57 L429.54,377.70 L431.54,378.82 L433.54,379.93 L435.53,381.02 L437.53,382.09 L439.53,383.15 L441.53,384.20 L443.52,385.22 L445.52,386.23 L447.52,387.22 L449.52,388.20 L451.52,389.15 L453.51,390.09 L455.51,391.00 L457.51,391.90 L459.51,392.77 L461.50,393.62 L463.50,394.46 L465.50,395.27 L465.90,395.00" fill="none" stroke="#7d7d7d" stroke-width="0.6"/>
<path d="M198.10000000000002,301.7 L198.10000000000002,273.0463563866092" fill="none" stroke="#8f8f8f" stroke-width="1"/>
<path d="M465.4,270.25 L465.4,395.0" fill="none" stroke="#4c4c4c" stroke-width="1.0"/>
<path d="M193.6,268.8 L193.6,435.5" fill="none" stroke="#333" stroke-width="1.8"/>
<path d="M192.7,435.5 L489,435.5" fill="none" stroke="#2a2a2a" stroke-width="1.7"/>
<text x="177.3" y="253.9" font-size="8.6" font-weight="bold" stroke="#000" stroke-width="0.35" textLength="123.9" lengthAdjust="spacingAndGlyphs" fill="#000">C) Ascaris: KK vs. DNA at baseline</text>
<text x="189.6" y="274.0" font-size="8.4" stroke="#000" stroke-width="0.1" text-anchor="end" fill="#000">1</text>
<text x="189.6" y="306.5" font-size="8.4" stroke="#000" stroke-width="0.1" text-anchor="end" fill="#000">0.8</text>
<text x="189.6" y="338.7" font-size="8.4" stroke="#000" stroke-width="0.1" text-anchor="end" fill="#000">0.6</text>
<text x="189.6" y="371.1" font-size="8.4" stroke="#000" stroke-width="0.1" text-anchor="end" fill="#000">0.4</text>
<text x="189.6" y="403.6" font-size="8.4" stroke="#000" stroke-width="0.1" text-anchor="end" fill="#000">0.2</text>
<text x="189.6" y="436.3" font-size="8.4" stroke="#000" stroke-width="0.1" text-anchor="end" fill="#000">0</text>
<text x="198.1" y="446" font-size="8.4" stroke="#000" stroke-width="0.1" text-anchor="middle" fill="#000">0</text>
<text x="257.9" y="446" font-size="8.4" stroke="#000" stroke-width="0.1" text-anchor="middle" fill="#000">1</text>
<text x="315.3" y="446" font-size="8.4" stroke="#000" stroke-width="0.1" text-anchor="middle" fill="#000">2</text>
<text x="372.4" y="446" font-size="8.4" stroke="#000" stroke-width="0.1" text-anchor="middle" fill="#000">3</text>
<text x="431.2" y="446" font-size="8.4" stroke="#000" stroke-width="0.1" text-anchor="middle" fill="#000">4</text>
<text x="489.5" y="446" font-size="8.4" stroke="#000" stroke-width="0.1" text-anchor="middle" fill="#000">5</text>
<text x="284.9" y="457.9" font-size="8.6" font-weight="bold" stroke="#000" stroke-width="0.35" textLength="104.2" lengthAdjust="spacingAndGlyphs" fill="#000">Log10(DNA copy number+1)</text>
<text x="174.2" y="366.4" font-size="7.4" font-weight="bold" stroke="#000" stroke-width="0.35" textLength="40.8" lengthAdjust="spacingAndGlyphs" transform="rotate(-90 174.2 366.4)" fill="#000">Probability</text>
<rect x="178.6" y="454.2" width="7.6" height="3.8" fill="#fafafa" stroke="#e6e6e6" stroke-width="0.6"/>
<text x="189.2" y="458.6" font-size="6.8" stroke="#000" stroke-width="0.1" textLength="45.7" lengthAdjust="spacingAndGlyphs" fill="#000" xml:space="preserve">EPG category  0</text>
<rect x="178.6" y="462.9" width="7.6" height="3.8" fill="#a6a6a6"/>
<text x="189.2" y="467.1" font-size="6.8" stroke="#000" stroke-width="0.1" textLength="45.7" lengthAdjust="spacingAndGlyphs" fill="#000" xml:space="preserve">EPG category  1</text>
<rect x="178.6" y="471.1" width="7.6" height="3.8" fill="#595959"/>
<text x="189.2" y="475.7" font-size="6.8" stroke="#000" stroke-width="0.1" textLength="45.7" lengthAdjust="spacingAndGlyphs" fill="#000" xml:space="preserve">EPG category  2</text>
</svg>
</body></html>
